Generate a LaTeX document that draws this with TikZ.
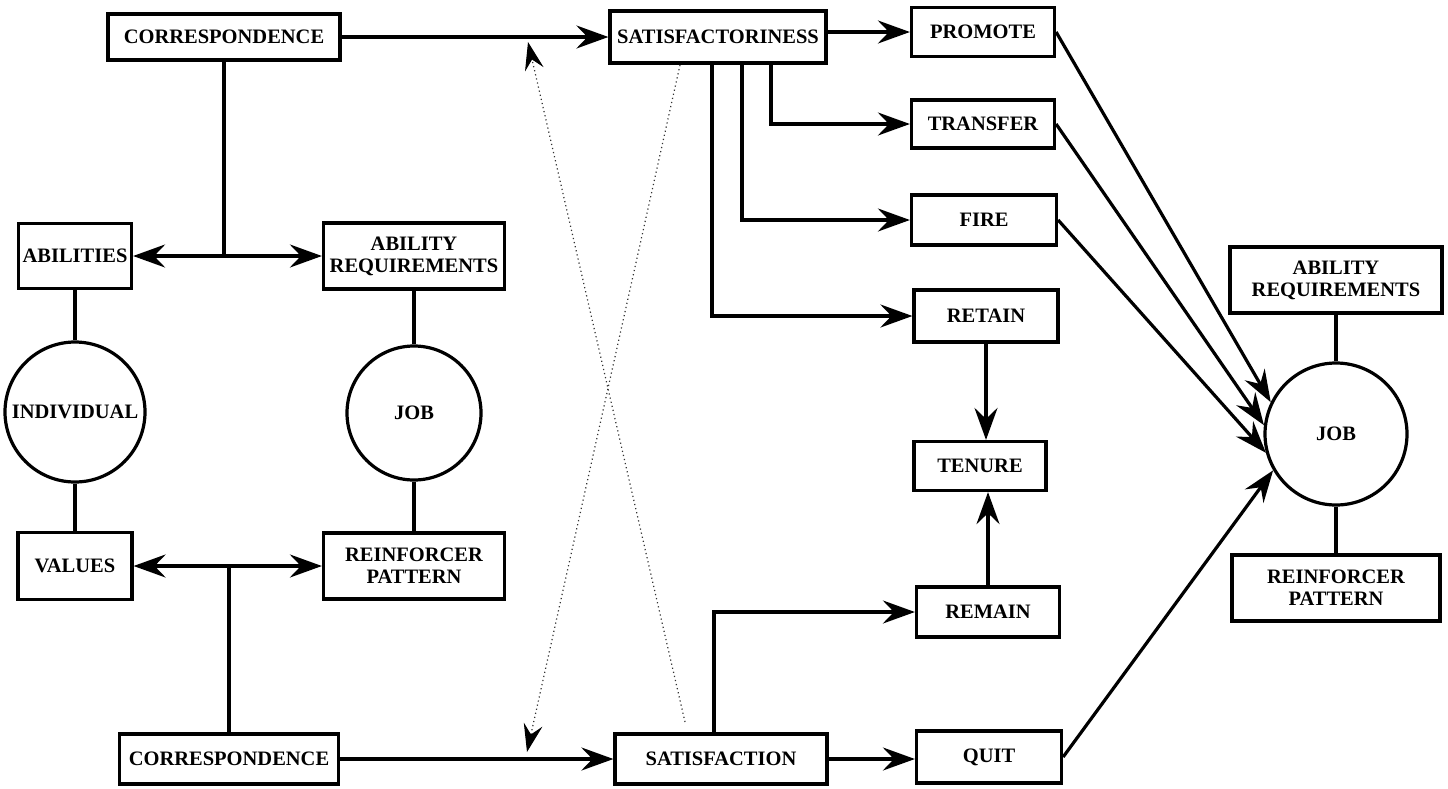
\documentclass[tikz,border=0pt]{standalone}
\usepackage{fontspec}
\setmainfont{Liberation Serif}
\usetikzlibrary{arrows.meta}

\begin{document}
\begin{tikzpicture}[x=1pt,y=-1pt]
		\tikzstyle{box} = [draw, line width=3.2, inner sep=0, align=center, font=\bfseries\fontsize{20.5}{22}\selectfont]
		\tikzstyle{ring} = [box, circle]
		\tikzstyle{link} = [line width=3.2]
		\tikzstyle{pointer} = [link, -{Stealth[length=32pt,width=23pt,inset=11pt]}]
		\tikzstyle{twoway} = [link, {Stealth[length=32pt,width=23pt,inset=11pt]}-{Stealth[length=32pt,width=23pt,inset=11pt]}]
		\tikzstyle{hint} = [line width=1.2, dash pattern=on 1.2pt off 3pt, black!80, -{Stealth[length=28pt,width=19pt,inset=10pt,black,line width=1pt]}]
		\useasboundingbox (0,0) rectangle (1448,788);
		
		% person and job on the left
		\node [box, minimum width=232, minimum height=46] (corrA) at (224,37) {CORRESPONDENCE};
		\node [box, minimum width=113, minimum height=65] (abilities) at (75,256) {ABILITIES};
		\node [box, minimum width=181, minimum height=66] (reqA) at (414,256) {ABILITY\\REQUIREMENTS};
		\node [ring, minimum size=140] (individual) at (75,412) {INDIVIDUAL};
		\node [ring, minimum size=134] (jobA) at (414,413) {JOB};
		\node [box, minimum width=114, minimum height=67] (values) at (75,566) {VALUES};
		\node [box, minimum width=181, minimum height=66] (reinfA) at (414,566) {REINFORCER\\PATTERN};
		\node [box, minimum width=219, minimum height=50] (corrB) at (229,759) {CORRESPONDENCE};
		
		% outcomes
		\node [box, minimum width=216, minimum height=52] (satA) at (718,37) {SATISFACTORINESS};
		\node [box, minimum width=212, minimum height=50] (satB) at (721,759) {SATISFACTION};
		\node [box, minimum width=143, minimum height=49] (promote) at (983,32) {PROMOTE};
		\node [box, minimum width=143, minimum height=48] (transfer) at (983,124) {TRANSFER};
		\node [box, minimum width=145, minimum height=50] (fire) at (984,220) {FIRE};
		\node [box, minimum width=144, minimum height=52] (retain) at (986,316) {RETAIN};
		\node [box, minimum width=132, minimum height=49] (tenure) at (980,466) {TENURE};
		\node [box, minimum width=143, minimum height=50] (remain) at (988,612) {REMAIN};
		\node [box, minimum width=145, minimum height=52] (quit) at (989,757) {QUIT};
		
		% job on the right
		\node [box, minimum width=212, minimum height=66] (reqB) at (1336,280) {ABILITY\\REQUIREMENTS};
		\node [ring, minimum size=142] (jobB) at (1336,434) {JOB};
		\node [box, minimum width=208, minimum height=66] (reinfB) at (1336,588) {REINFORCER\\PATTERN};
		
		\coordinate (jA) at (corrA.south |- abilities.east);
		\coordinate (jB) at (corrB.north |- values.east);
		\coordinate (hA) at (685,722);
		\coordinate (hB) at (528,42);
		\coordinate (hC) at (680,65);
		\coordinate (hD) at (527,752);
		
		\draw [link] (abilities) -- (individual) -- (values);
		\draw [link] (reqA) -- (jobA) -- (reinfA);
		\draw [link] (reqB) -- (jobB) -- (reinfB);
		\draw [link] (corrA) -- (jA);
		\draw [link] (jB) -- (corrB);
		\draw [twoway] (abilities) -- (reqA);
		\draw [twoway] (values) -- (reinfA);
		\draw [pointer] (corrA) -- (satA);
		\draw [pointer] (corrB) -- (satB);
		
		\draw [hint] (hA) -- (hB);
		\draw [hint] (hC) -- (hD);
		
		\draw [pointer] (satA.east |- promote) -- (promote);
		\draw [pointer] ([xshift=53]satA.south) |- (transfer);
		\draw [pointer] ([xshift=24]satA.south) |- (fire);
		\draw [pointer] ([xshift=-6]satA.south) |- (retain);
		\draw [pointer] ([xshift=-7]satB.north) |- (remain);
		\draw [pointer] (satB.east) -- (satB.east -| quit.west);
		\draw [pointer] (retain.south) -- (retain.south |- tenure.north);
		\draw [pointer] (remain.north) -- (remain.north |- tenure.south);
		
		\draw [pointer] (promote.east) -- (jobB.154);
		\draw [pointer] (transfer.east) -- (jobB.173);
		\draw [pointer] (fire.east) -- (jobB.195);
		\draw [pointer] (quit.east) -- (jobB.210);
\end{tikzpicture}
\end{document}
